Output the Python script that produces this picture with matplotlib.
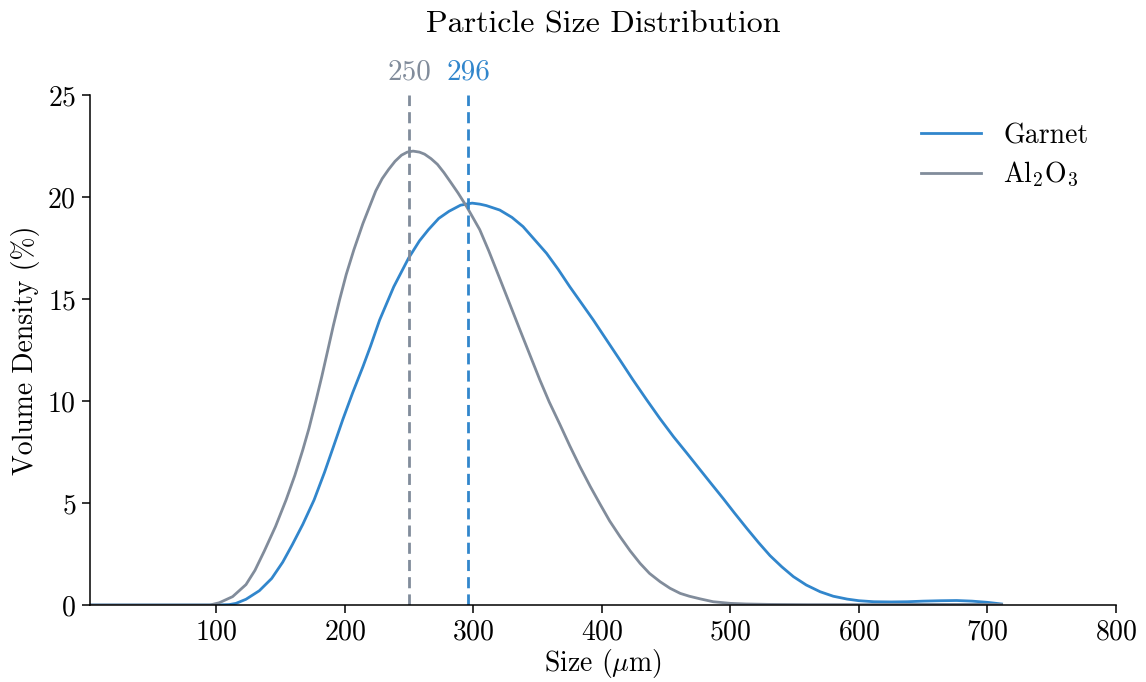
import matplotlib
matplotlib.use("Agg")
import matplotlib.pyplot as plt

plt.rcParams["font.family"] = "serif"
plt.rcParams["font.serif"] = ["cmr10"]
plt.rcParams["mathtext.fontset"] = "cm"
plt.rcParams["axes.formatter.use_mathtext"] = True
plt.rcParams["axes.unicode_minus"] = False

# Volume density (%) versus particle size (um)
garnet_size = [1, 50, 100, 110, 115.2, 123, 133.4, 143, 151.6, 159, 167.2, 176, 184.1,
               191, 198.4, 206, 214, 220, 227, 238, 249.5, 258, 265, 273, 281, 290,
               299, 305, 310, 320.5, 330, 338.6, 347, 356.9, 366, 375, 384, 393.3,
               403, 414.1, 424, 434.9, 445, 455.7, 466, 476.5, 485, 494.6, 503,
               512.8, 522, 530.8, 540, 549, 559, 569.8, 580, 590.8, 600, 611.6, 625,
               637.6, 650, 663.6, 676, 688, 700, 711]
garnet_vol = [0, 0, 0, 0.02, 0.08, 0.28, 0.7, 1.3, 2.1, 2.95, 3.95, 5.15, 6.5, 7.75,
              9.1, 10.4, 11.68, 12.7, 13.97, 15.6, 17.0, 17.85, 18.4, 18.95, 19.3,
              19.6, 19.7, 19.65, 19.58, 19.36, 19.0, 18.55, 17.95, 17.24, 16.45,
              15.6, 14.8, 13.97, 13.05, 12.0, 11.05, 10.05, 9.15, 8.25, 7.45, 6.62,
              5.95, 5.2, 4.52, 3.75, 3.05, 2.42, 1.87, 1.39, 0.98, 0.65, 0.43, 0.29,
              0.21, 0.16, 0.15, 0.16, 0.19, 0.21, 0.22, 0.19, 0.13, 0.05]

alumina_size = [1, 50, 95, 102.2, 112.6, 123, 130, 137.3, 146, 154.2, 161, 167.2, 172,
                177.6, 182, 186.7, 191, 195.8, 201, 206.9, 214, 219, 224, 229, 234,
                239, 244, 248.5, 253, 258, 262, 267, 272, 277, 282, 288, 295, 304.9,
                312, 320.5, 328, 336.1, 344, 351.7, 359, 367.3, 375, 382.9, 391,
                398.5, 406, 414.1, 422, 429.7, 437, 445.3, 453, 460.9, 468, 476.5,
                486.6, 500, 512, 530, 560, 600, 650, 700, 711]
alumina_vol = [0, 0, 0, 0.11, 0.41, 1.0, 1.7, 2.65, 3.85, 5.15, 6.35, 7.6, 8.65, 10.05,
               11.2, 12.5, 13.7, 14.95, 16.2, 17.4, 18.7, 19.5, 20.3, 20.9, 21.35,
               21.75, 22.05, 22.2, 22.25, 22.2, 22.1, 21.88, 21.6, 21.2, 20.75,
               20.2, 19.5, 18.4, 17.35, 16.0, 14.8, 13.5, 12.25, 11.03, 9.95, 8.85,
               7.8, 6.78, 5.8, 4.95, 4.12, 3.35, 2.65, 2.04, 1.55, 1.14, 0.82, 0.57,
               0.43, 0.3, 0.16, 0.08, 0.05, 0.03, 0.02, 0.02, 0.03, 0.03, 0.02]

modes = [250, 296]
series_names = ["Garnet", "Al$_2$O$_3$"]
blue = "#3186cc"
gray = "#818c9b"

fig = plt.figure(figsize=(11.46, 6.82), dpi=100)
ax = fig.add_axes([0.0785, 0.1129, 0.8953, 0.7478])

ax.plot(garnet_size, garnet_vol, color=blue, lw=2, label=series_names[0])
ax.plot(alumina_size, alumina_vol, color=gray, lw=2, label=series_names[1])

for m, c in zip(modes, [gray, blue]):
    ax.plot([m, m], [0, 25], color=c, lw=2, ls=(0, (4, 2.2)))
    ax.text(m, 25.45, f"{m}", color=c, ha="center", va="bottom", fontsize=21)

ax.set_xlim(1.6, 800)
ax.set_ylim(0, 25)
ax.set_xticks([100, 200, 300, 400, 500, 600, 700, 800])
ax.set_yticks([0, 5, 10, 15, 20, 25])
ax.tick_params(labelsize=20, length=6, width=1.1, direction="out", pad=4)
for s in ["top", "right"]:
    ax.spines[s].set_visible(False)
for s in ["left", "bottom"]:
    ax.spines[s].set_linewidth(1.1)

ax.set_xlabel(r"Size ($\mu$m)", fontsize=20, labelpad=1)
ax.set_ylabel("Volume Density (%)", fontsize=20, labelpad=5)
ax.set_title("Particle Size Distribution", fontsize=23, pad=45)

ax.legend(loc="upper right", frameon=False, fontsize=20, handlelength=2.15,
          handletextpad=0.8, borderaxespad=0.6, labelspacing=0.4)

fig.savefig("out.png", dpi=100)
